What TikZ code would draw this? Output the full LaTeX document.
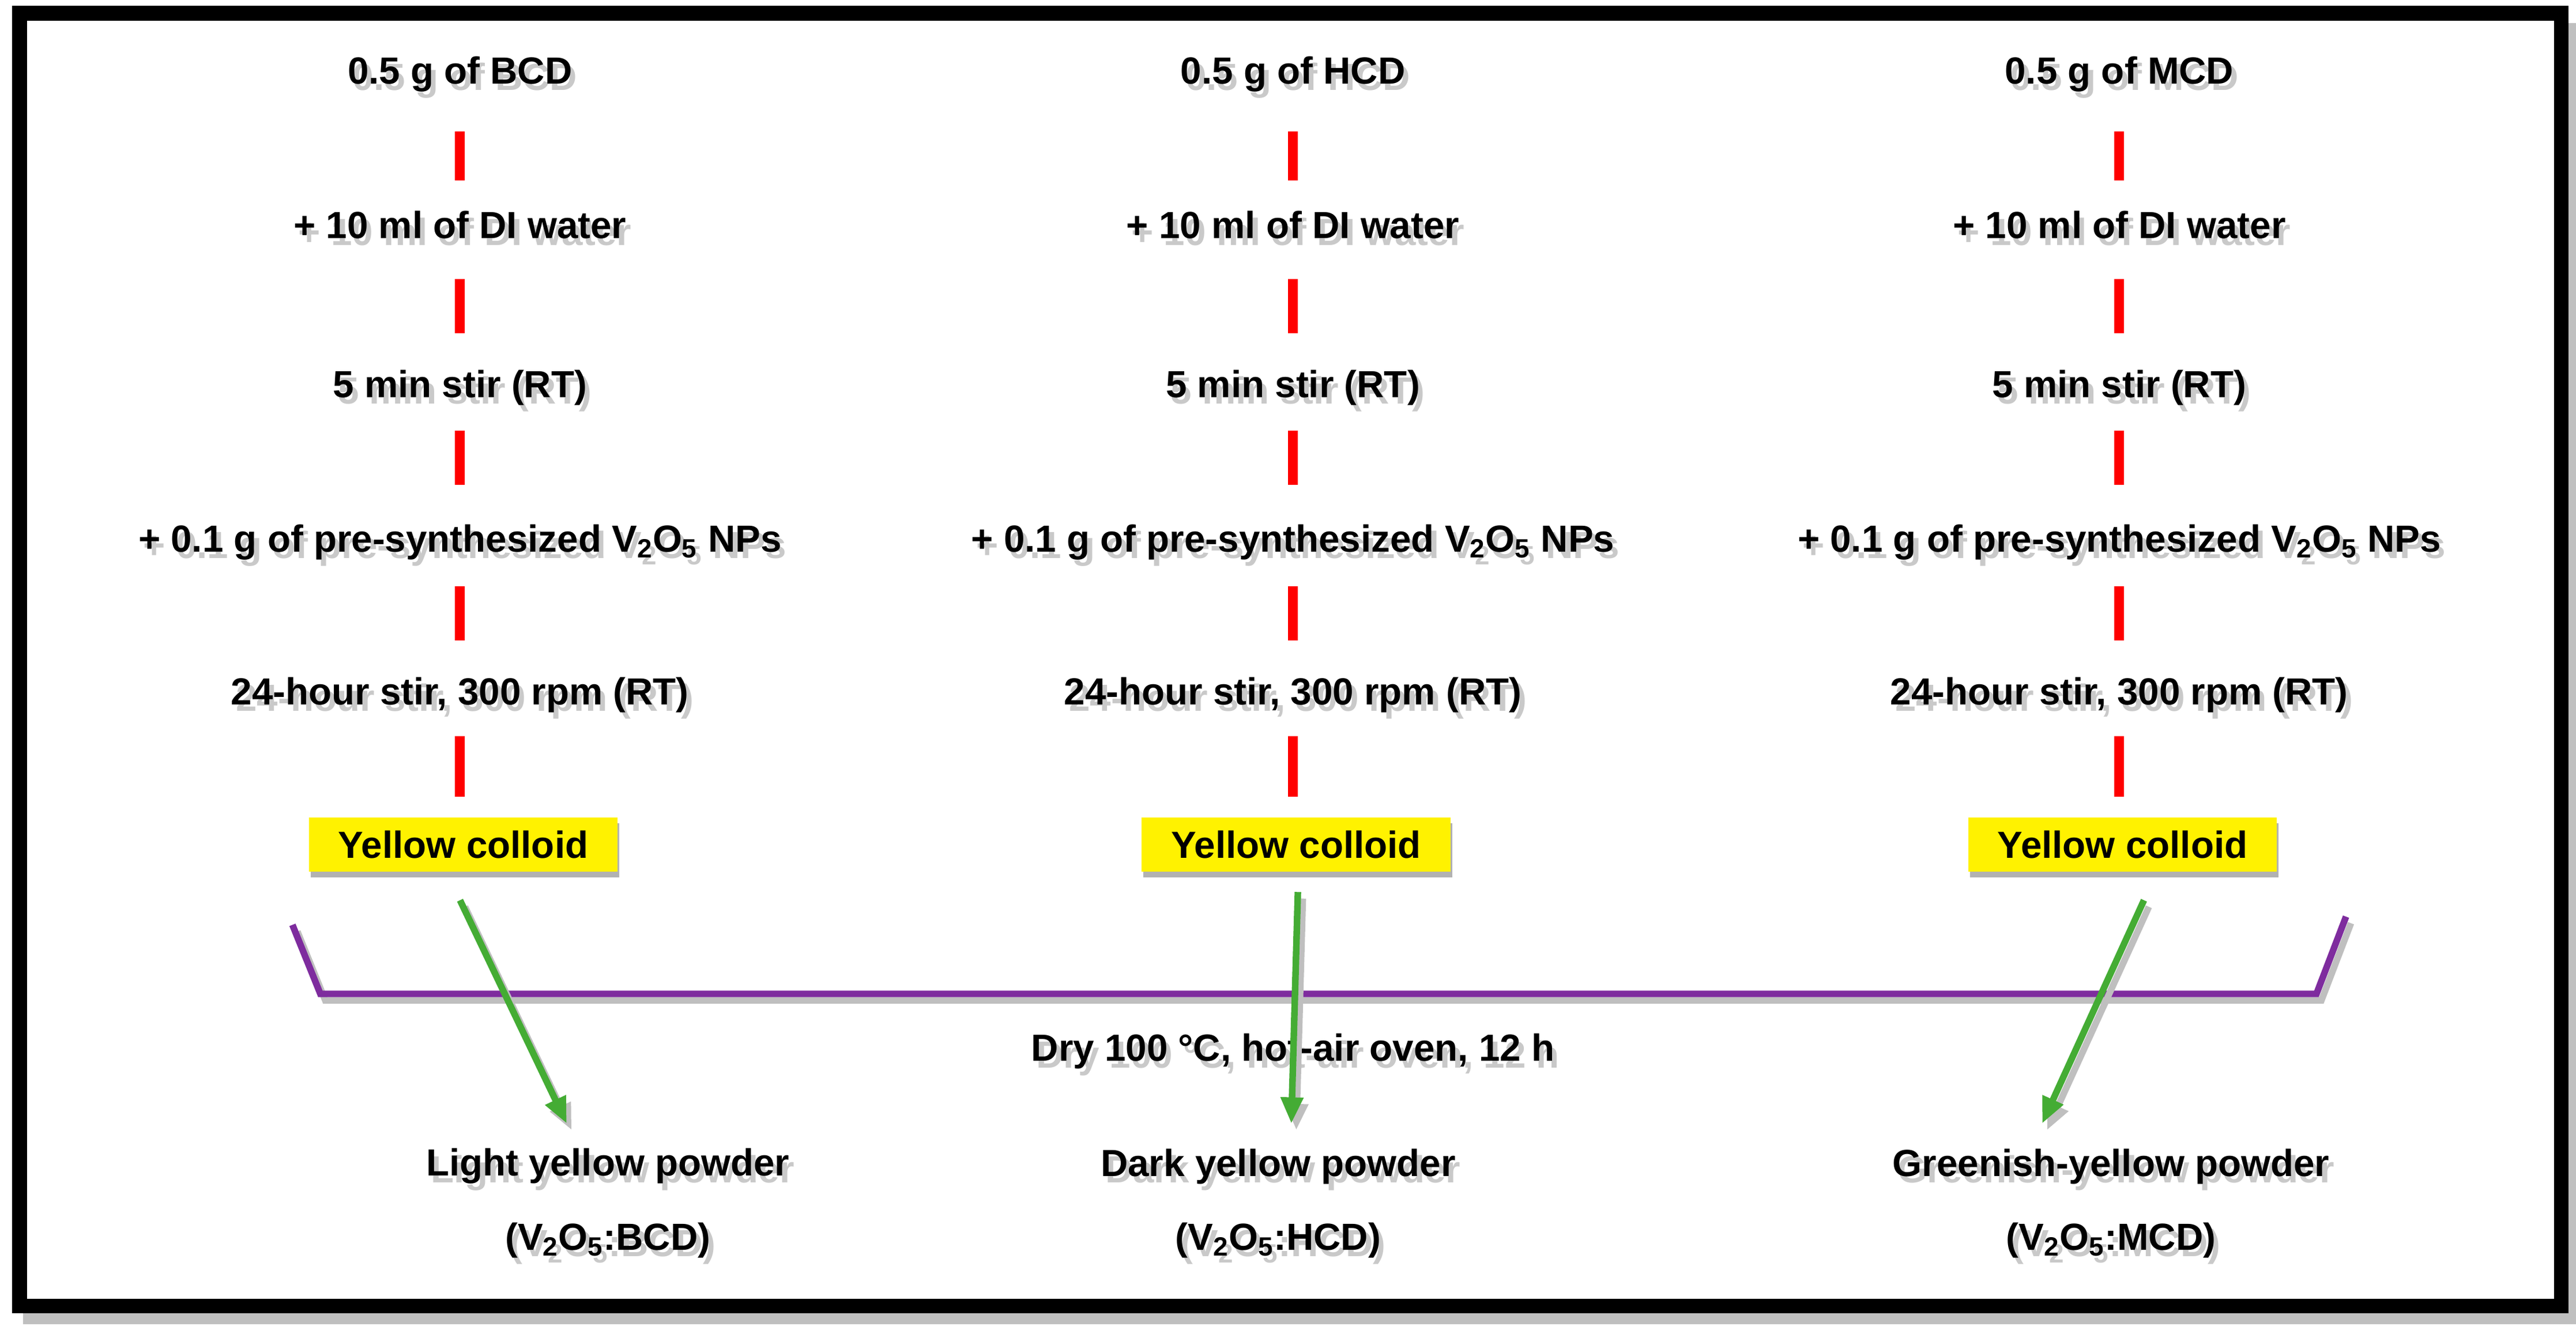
\documentclass[tikz,border=0pt]{standalone}
\usepackage{fontspec}
\setmainfont{Liberation Sans}
\usetikzlibrary{arrows.meta}
\definecolor{purp}{RGB}{126,44,158}
\definecolor{grnc}{RGB}{68,172,52}
\begin{document}
\begin{tikzpicture}[x=1pt,y=-1pt,
  txt/.style={font=\fontsize{23}{27}\selectfont\bfseries, inner sep=2pt},
  sh/.style={txt, text=black!35, opacity=0.6},
  reddash/.style={red, line width=6pt},
  grn/.style={line width=4pt, -{Triangle[length=16pt,width=13pt]}},
]
\useasboundingbox (0,0) rectangle (1568,812);
\fill[black!25] (14,14) rectangle (1568,806);
\draw[line width=9pt, fill=white] (12,8) rectangle (1559,795);
\newcommand\VV{V\textsubscript{2}O\textsubscript{5}}
\foreach \cx/\nm [count=\c] in {280/BCD,787/HCD,1290/MCD}{
  \foreach \t/\yy [count=\r] in {0.5 g of \nm/45, + 10 ml of DI water/137, 5 min stir (RT)/236, {+ 0.1 g of pre-synthesized \VV{} NPs}/330, {24-hour stir, 300 rpm (RT)}/423}{
    \node[sh] at (\cx+3,\yy+4) {\t};
    \node[txt] (n\c\r) at (\cx,\yy) {\t};
  }
  \fill[black!30] (\cx-91,501) rectangle (\cx+97,534);
  \node[txt, fill=yellow, minimum width=188pt, minimum height=33pt] (c\c) at (\cx+2,514) {Yellow colloid};
  \foreach \ya/\yb in {80/110,170/203,262/295,357/390,448/485}
    \draw[reddash] (\cx,\ya) -- (\cx,\yb);
}
% bracket
\coordinate (b1) at (178,563); \coordinate (b2) at (195,605);
\coordinate (b3) at (1410,605); \coordinate (b4) at (1428,558);
\draw[black!25, line width=4pt] ([shift={(3,4)}]b1) -- ([shift={(3,4)}]b2) -- ([shift={(3,4)}]b3) -- ([shift={(3,4)}]b4);
\draw[purp, line width=4pt] (b1) -- (b2) -- (b3) -- (b4);
\node[sh] at (790,644) {Dry 100 °C, hot-air oven, 12 h};
\node[txt] (dry) at (787,640) {Dry 100 °C, hot-air oven, 12 h};
% products
\foreach \px/\a/\b [count=\k] in {370/Light yellow powder/BCD, 778/Dark yellow powder/HCD, 1285/Greenish-yellow powder/MCD}{
  \node[sh] at (\px+3,714) {\a};
  \node[txt] (p\k) at (\px,710) {\a};
  \node[sh] at (\px+3,759) {(\VV:\b)};
  \node[txt] (q\k) at (\px,755) {(\VV:\b)};
}
\coordinate (s1) at (280,548); \coordinate (e1) at (345,684);
\coordinate (s2) at (790,543); \coordinate (e2) at (786,684);
\coordinate (s3) at (1305,548); \coordinate (e3) at (1243,684);
\foreach \i in {1,2,3}{
  \draw[grn, draw=black!25, fill=black!25] ([shift={(3,4)}]s\i) -- ([shift={(3,4)}]e\i);
  \draw[grn, draw=grnc, fill=grnc] (s\i) -- (e\i);
}
\end{tikzpicture}
\end{document}
